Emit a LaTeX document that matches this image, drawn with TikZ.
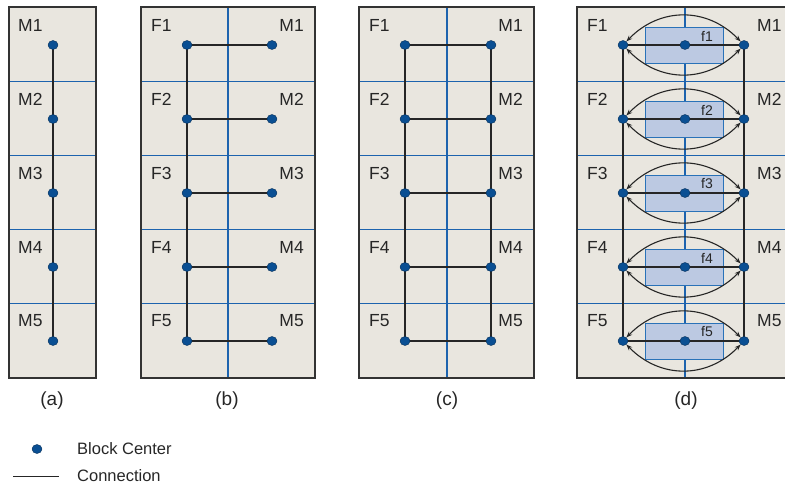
\documentclass[tikz,border=0pt]{standalone}
\usepackage{fontspec}
\setmainfont{Liberation Sans}
\usetikzlibrary{arrows.meta,shapes.geometric}
\definecolor{panelbg}{HTML}{E9E6DF}
\definecolor{divblue}{HTML}{1D63AE}
\definecolor{dotblue}{HTML}{0A4F93}
\definecolor{boxfill}{HTML}{BCC9E2}
\definecolor{boxline}{HTML}{2A72B8}
\definecolor{framegray}{HTML}{333333}
\begin{document}
\begin{tikzpicture}[x=1pt,y=-1pt,
  panelfill/.style={fill=panelbg},
  panelframe/.style={draw=framegray,line width=1.8pt},
  divider/.style={draw=divblue,line width=1.2pt},
  dot/.style={ellipse,fill=dotblue,draw=dotblue!60!black,line width=0.4pt,minimum width=10pt,minimum height=9pt,inner sep=0pt},
  link/.style={draw=black!85,line width=1.3pt},
  arc/.style={draw=black!85,line width=1.1pt,{Stealth[length=6pt,width=4.5pt]}-{Stealth[length=6pt,width=4.5pt]}},
  fbox/.style={fill=boxfill,draw=boxline,line width=0.9pt},
  rowlabel/.style={font=\fontsize{17.5}{18}\selectfont,inner sep=0pt,text=black!85},
  flabel/.style={font=\fontsize{14}{14}\selectfont,inner sep=0pt,text=black!85},
  caption/.style={font=\fontsize{19}{19}\selectfont,inner sep=0pt,text=black!85},
  legendtext/.style={font=\fontsize{16.5}{17}\selectfont,inner sep=0pt,anchor=west,text=black!85}
]
\useasboundingbox (0,0) rectangle (785,487);
\begin{scope}
\clip (0,0) rectangle (785,487);

% ---------- panel (a)
\fill[panelfill] (9,7) rectangle (96,378);
\foreach \k in {1,...,4} \draw[divider] (9,{7+74.2*\k}) -- (96,{7+74.2*\k});
\foreach \i in {1,...,5} {
  \coordinate (a\i) at (53,{45+74*(\i-1)});
  \node[rowlabel,anchor=west] (la\i) at (18,{25+74*(\i-1)}) {M\i};
}
\draw[link] (a1) -- (a2) -- (a3) -- (a4) -- (a5);
\foreach \i in {1,...,5} \node[dot] (da\i) at (a\i) {};
\draw[panelframe] (9,7) rectangle (96,378);

% ---------- panel (b)
\fill[panelfill] (141,7) rectangle (315,378);
\foreach \k in {1,...,4} \draw[divider] (141,{7+74.2*\k}) -- (315,{7+74.2*\k});
\draw[divider] (228,7) -- (228,378);
\foreach \i in {1,...,5} {
  \coordinate (bl\i) at (187,{45+74*(\i-1)});
  \coordinate (br\i) at (272,{45+74*(\i-1)});
  \node[rowlabel,anchor=west] (lbf\i) at (151,{25+74*(\i-1)}) {F\i};
  \node[rowlabel,anchor=east] (lbm\i) at (304,{25+74*(\i-1)}) {M\i};
}
\draw[link] (bl1) -- (bl2) -- (bl3) -- (bl4) -- (bl5);
\foreach \i in {1,...,5} \draw[link] (bl\i) -- (br\i);
\foreach \i in {1,...,5} {\node[dot] (dbl\i) at (bl\i) {}; \node[dot] (dbr\i) at (br\i) {};}
\draw[panelframe] (141,7) rectangle (315,378);

% ---------- panel (c)
\fill[panelfill] (359,7) rectangle (534,378);
\foreach \k in {1,...,4} \draw[divider] (359,{7+74.2*\k}) -- (534,{7+74.2*\k});
\draw[divider] (447,7) -- (447,378);
\foreach \i in {1,...,5} {
  \coordinate (cl\i) at (405,{45+74*(\i-1)});
  \coordinate (cr\i) at (491,{45+74*(\i-1)});
  \node[rowlabel,anchor=west] (lcf\i) at (369,{25+74*(\i-1)}) {F\i};
  \node[rowlabel,anchor=east] (lcm\i) at (523,{25+74*(\i-1)}) {M\i};
}
\draw[link] (cl1) -- (cl2) -- (cl3) -- (cl4) -- (cl5);
\draw[link] (cr1) -- (cr2) -- (cr3) -- (cr4) -- (cr5);
\foreach \i in {1,...,5} \draw[link] (cl\i) -- (cr\i);
\foreach \i in {1,...,5} {\node[dot] (dcl\i) at (cl\i) {}; \node[dot] (dcr\i) at (cr\i) {};}
\draw[panelframe] (359,7) rectangle (534,378);

% ---------- panel (d)
\fill[panelfill] (577,7) rectangle (794,378);
\foreach \k in {1,...,4} \draw[divider] (577,{7+74.2*\k}) -- (794,{7+74.2*\k});
\draw[divider] (685,7) -- (685,378);
\foreach \i in {1,...,5} {
  \coordinate (dl\i) at (623,{45+74*(\i-1)});
  \coordinate (dm\i) at (685,{45+74*(\i-1)});
  \coordinate (dr\i) at (744,{45+74*(\i-1)});
  \node[rowlabel,anchor=west] (ldf\i) at (587,{25+74*(\i-1)}) {F\i};
  \node[rowlabel,anchor=west] (ldm\i) at (757,{25+74*(\i-1)}) {M\i};
  \node[fbox,minimum width=78pt,minimum height=36pt,inner sep=0pt] (box\i) at (684,{45+74*(\i-1)}) {};
  \node[flabel] (lf\i) at (707,{36+74*(\i-1)}) {f\i};
}
\draw[link] (dl1) -- (dl2) -- (dl3) -- (dl4) -- (dl5);
\draw[link] (dr1) -- (dr2) -- (dr3) -- (dr4) -- (dr5);
\foreach \i in {1,...,5} \draw[link] (dl\i) -- (dr\i);
\foreach \i in {1,...,5} {
  \node[dot] (ddl\i) at (dl\i) {};
  \node[dot] (ddm\i) at (dm\i) {};
  \node[dot] (ddr\i) at (dr\i) {};
  \draw[arc] (ddl\i) to[bend left=46,looseness=1.08] (ddr\i);
  \draw[arc] (ddl\i) to[bend right=46,looseness=1.08] (ddr\i);
}
\draw[panelframe] (577,7) rectangle (794,378);
\end{scope}

% ---------- captions
\node[caption] (capa) at (52,401) {(a)};
\node[caption] (capb) at (227,401) {(b)};
\node[caption] (capc) at (447,401) {(c)};
\node[caption] (capd) at (686,401) {(d)};

% ---------- legend
\node[dot] (legdot) at (37,449) {};
\node[legendtext] (legt1) at (77,449) {Block Center};
\coordinate (lg1) at (13,476);
\coordinate (lg2) at (59,476);
\draw[link,line width=1pt] (lg1) -- (lg2);
\node[legendtext] (legt2) at (77,476) {Connection};
\end{tikzpicture}
\end{document}
